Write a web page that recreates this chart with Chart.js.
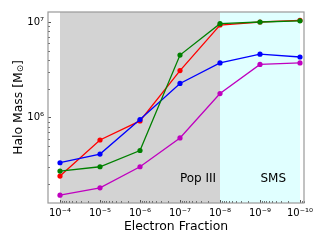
<!DOCTYPE html>
<html><head><meta charset="utf-8">
<script src="https://cdn.jsdelivr.net/npm/chart.js@4/dist/chart.umd.min.js"></script>
<style>html,body{margin:0;padding:0;background:#fff}#c{display:block}</style>
</head><body>
<canvas id="c" width="320" height="240"></canvas>
<script>
const electronFraction = [1e-4, 1e-5, 1e-6, 1e-7, 1e-8, 1e-9, 1e-10];
const massRed     = [2.43e5, 5.8e5, 9.2e5, 3.1e6, 9.3e6, 1.0e7, 1.04e7];
const massGreen   = [2.74e5, 3.04e5, 4.5e5, 4.5e6, 9.6e6, 1.0e7, 1.03e7];
const massBlue    = [3.35e5, 4.13e5, 9.5e5, 2.27e6, 3.73e6, 4.6e6, 4.3e6];
const massMagenta = [1.53e5, 1.83e5, 3.04e5, 6.1e5, 1.78e6, 3.59e6, 3.73e6];
const xTickValues = [1e-4, 1e-5, 1e-6, 1e-7, 1e-8, 1e-9, 1e-10];
const xTickLabels = ['10\u207B\u2074', '10\u207B\u2075', '10\u207B\u2076', '10\u207B\u2077', '10\u207B\u2078', '10\u207B\u2079', '10\u207B\u00B9\u2070'];
const yTickValues = [1e6, 1e7];
const yTickLabels = ['10\u2076', '10\u2077'];
const regionEdges = [1e-4, 1e-8, 1e-10];
const regionLabels = ['Pop III', 'SMS'];
const yTitleParts = ['Halo Mass [M', '\u2299', ']'];

const FONT = 'DejaVu Sans';
function pts(vals) { return electronFraction.map((x, i) => ({x: x, y: vals[i]})); }
function ds(vals, color) {
  return {data: pts(vals), borderColor: color, backgroundColor: color, borderWidth: 1.3,
    pointRadius: 2.6, pointBorderWidth: 0, pointBackgroundColor: color, tension: 0, fill: false};
}

const decor = {
  id: 'decor',
  beforeDatasetsDraw(chart) {
    const {ctx, chartArea: a, scales: {x, y}} = chart;
    const p0 = x.getPixelForValue(regionEdges[0]);
    const p1 = x.getPixelForValue(regionEdges[1]);
    const p2 = x.getPixelForValue(regionEdges[2]);
    ctx.save();
    ctx.fillStyle = '#d3d3d3';
    ctx.fillRect(p0, a.top, p1 - p0, a.bottom - a.top);
    ctx.fillStyle = '#e0ffff';
    ctx.fillRect(p1, a.top, p2 - p1, a.bottom - a.top);
    ctx.fillStyle = '#000';
    ctx.font = '12px "' + FONT + '"';
    ctx.textAlign = 'center';
    ctx.textBaseline = 'middle';
    const ty = y.getPixelForValue(2.26e5);
    ctx.fillText(regionLabels[0], x.getPixelForValue(Math.pow(10, -7.45)), ty);
    ctx.fillText(regionLabels[1], x.getPixelForValue(Math.pow(10, -9.33)), ty);
    ctx.restore();
  },
  afterDatasetsDraw(chart) {
    const {ctx, chartArea: a, scales: {x, y}} = chart;
    ctx.save();
    ctx.strokeStyle = '#555';
    ctx.lineWidth = 1;
    ctx.beginPath();
    for (let n = -11; n <= -3; n++) {
      for (let k = 1; k <= 9; k++) {
        const v = k * Math.pow(10, n);
        const px = x.getPixelForValue(v);
        if (px < a.left || px > a.right) continue;
        const len = k === 1 ? 3 : 1.8;
        const xx = Math.round(px) + 0.5;
        ctx.moveTo(xx, a.bottom);
        ctx.lineTo(xx, a.bottom - len);
      }
    }
    for (let n = 4; n <= 8; n++) {
      for (let k = 1; k <= 9; k++) {
        const v = k * Math.pow(10, n);
        const py = y.getPixelForValue(v);
        if (py < a.top || py > a.bottom) continue;
        const len = k === 1 ? 3 : 1.8;
        const yy = Math.round(py) + 0.5;
        ctx.moveTo(a.left, yy);
        ctx.lineTo(a.left + len, yy);
      }
    }
    ctx.stroke();
    ctx.strokeStyle = '#999';
    ctx.lineWidth = 1.2;
    ctx.strokeRect(a.left, a.top, a.right - a.left, a.bottom - a.top);
    ctx.restore();
  },
  afterDraw(chart) {
    const {ctx, chartArea: a} = chart;
    const big = '12.4px "' + FONT + '"', small = '8.8px "' + FONT + '"';
    ctx.save();
    ctx.font = big; const w1 = ctx.measureText(yTitleParts[0]).width, w3 = ctx.measureText(yTitleParts[2]).width;
    ctx.font = small; const w2 = ctx.measureText(yTitleParts[1]).width;
    const total = w1 + w2 + w3;
    ctx.translate(18.5, (a.top + a.bottom) / 2);
    ctx.rotate(-Math.PI / 2);
    ctx.fillStyle = '#000';
    ctx.textAlign = 'left';
    ctx.textBaseline = 'middle';
    let cx = -total / 2;
    ctx.font = big; ctx.fillText(yTitleParts[0], cx, 0); cx += w1;
    ctx.font = small; ctx.fillText(yTitleParts[1], cx, 2.5); cx += w2;
    ctx.font = big; ctx.fillText(yTitleParts[2], cx, 0);
    ctx.restore();
  }
};

new Chart(document.getElementById('c'), {
  type: 'line',
  data: {
    datasets: [
      ds(massMagenta, '#bf00bf'),
      ds(massGreen, '#008000'),
      ds(massBlue, '#0000ff'),
      ds(massRed, '#ff0000')
    ]
  },
  options: {
    responsive: false,
    animation: false,
    events: [],
    layout: {padding: {top: 12, right: 16, left: 0, bottom: 0}},
    plugins: {legend: {display: false}, tooltip: {enabled: false}},
    scales: {
      x: {
        type: 'logarithmic',
        reverse: true,
        min: Math.pow(10, -10.1),
        max: Math.pow(10, -3.7),
        grid: {display: false, drawTicks: false},
        border: {display: false},
        afterBuildTicks(s) { s.ticks = xTickValues.map(v => ({value: v, major: true})); },
        afterFit(s) { s.height = 37; },
        ticks: {
          autoSkip: false, maxRotation: 0, minRotation: 0, padding: 4, color: '#000',
          font: {family: FONT, size: 10},
          callback: (v, i) => xTickLabels[i]
        },
        title: {display: true, text: 'Electron Fraction', color: '#000',
          font: {family: FONT, size: 12.4}, padding: {top: 0, bottom: 6}}
      },
      y: {
        type: 'logarithmic',
        min: Math.pow(10, 5.103),
        max: Math.pow(10, 7.105),
        grid: {display: false, drawTicks: false},
        border: {display: false},
        afterBuildTicks(s) { s.ticks = yTickValues.map(v => ({value: v, major: true})); },
        afterFit(s) { s.width = 48; },
        ticks: {
          autoSkip: false, padding: 4, color: '#000',
          font: {family: FONT, size: 10},
          callback: (v, i) => yTickLabels[i]
        },
        title: {display: false}
      }
    }
  },
  plugins: [decor]
});
</script>
</body></html>
